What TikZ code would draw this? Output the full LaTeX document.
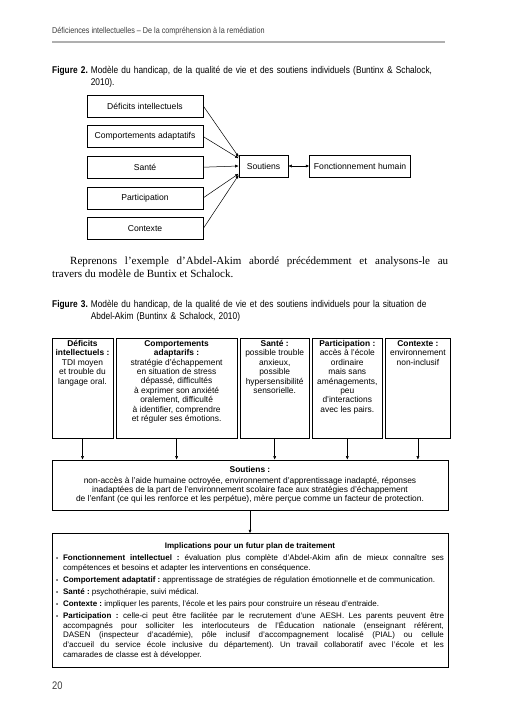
\documentclass[tikz,border=0pt]{standalone}
\usepackage{fontspec}
\setmainfont{Liberation Serif}
\setsansfont{Liberation Sans}
\newfontfamily\narrowsf[FakeStretch=0.85]{Liberation Sans}
\usetikzlibrary{arrows.meta, positioning, calc}
\definecolor{cHeader}{RGB}{60,60,60}
\definecolor{cRule}{RGB}{175,175,175}
\tikzset{
	modelbox/.style={rectangle, draw=black, line width=0.6pt, minimum height=22pt, inner sep=1pt, text centered, font=\sffamily\fontsize{8.6}{10}\selectfont},
	factor/.style={modelbox, minimum width=116pt},
	sitbox/.style={rectangle, draw=black, line width=0.6pt, minimum height=100pt, inner sep=0pt},
	sittext/.style={anchor=north, align=center, inner sep=2.5pt, font=\sffamily\fontsize{8.4}{9.4}\selectfont},
	widebox/.style={rectangle, draw=black, line width=0.6pt, minimum width=396pt, inner sep=0pt},
	flowarrow/.style={-{Latex[length=3.5pt, width=3pt]}, line width=0.5pt},
	figcaption/.style={anchor=north west, inner sep=0pt, text width=420pt, align=left, font=\narrowsf\fontsize{9.8}{11.8}\selectfont},
}
\newcommand{\figcap}[2]{\sbox0{\textbf{#1}\hspace{3pt}}\hangindent=\wd0 \hangafter=1 \usebox0#2\par}
\newcommand{\implitem}[2]{\par\hangindent=7pt\hangafter=1\noindent\makebox[7pt][l]{\scalebox{0.75}{\textbullet}}\textbf{#1} #2}

\begin{document}
\frenchspacing
\begin{tikzpicture}[x=1pt, y=-1pt, node distance=8pt]
	\fill[white] (0,0) rectangle (507,718);
	\useasboundingbox (0,0) rectangle (507,718);
	% running head
	\node[anchor=west, inner sep=0pt, text=cHeader, font=\narrowsf\fontsize{8.5}{10}\selectfont] (head) at (52,31) {Déficiences intellectuelles – De la compréhension à la remédiation};
	\draw[cRule, line width=1.2pt] (52,42) -- (445,42);
	% figure 2
	\node[figcaption] (cap2) at (52,66) {\figcap{Figure 2.}{Modèle du handicap, de la qualité de vie et des soutiens individuels (Buntinx \& Schalock,\newline 2010).}};
	\node[factor] (def) at (145,106) {Déficits intellectuels};
	\node[factor, below=of def] (comp) {Comportements adaptatifs};
	\node[factor, below=of comp] (sante) {Santé};
	\node[factor, below=of sante] (part) {Participation};
	\node[factor, below=of part] (ctx) {Contexte};
	\node[modelbox, minimum width=49pt] (sout) at (263.5,166) {Soutiens};
	\node[modelbox, minimum width=101pt, right=21pt of sout] (fonc) {Fonctionnement humain};
	\draw[flowarrow] (def.east) -- ($(sout.north west)!0.1!(sout.south west)$);
	\draw[flowarrow] (comp.east) -- ($(sout.north west)!0.16!(sout.south west)$);
	\draw[flowarrow] (sante.east) -- (sout.west);
	\draw[flowarrow] (part.east) -- ($(sout.north west)!0.84!(sout.south west)$);
	\draw[flowarrow] (ctx.east) -- ($(sout.north west)!0.9!(sout.south west)$);
	\draw[{Latex[length=3.5pt, width=3pt]}-{Latex[length=3.5pt, width=3pt]}, line width=0.5pt] (sout) -- (fonc);
	% paragraph
	\node[anchor=north west, inner sep=0pt, text width=396pt, align=justify, font=\rmfamily\fontsize{11}{12.8}\selectfont] (para) at (52,257) {\hspace*{18pt}Reprenons l’exemple d’Abdel-Akim abordé précédemment et analysons-le au\linebreak travers du modèle de Buntix et Schalock.};
	% figure 3
	\node[figcaption] (cap3) at (52,300) {\figcap{Figure 3.}{Modèle du handicap, de la qualité de vie et des soutiens individuels pour la situation de\newline Abdel-Akim (Buntinx \& Schalock, 2010)}};
	\node[sitbox, minimum width=61pt] (c1) at (82.5,388) {};
	\node[sitbox, minimum width=121pt, right=2.5pt of c1] (c2) {};
	\node[sitbox, minimum width=69pt, right=2.5pt of c2] (c3) {};
	\node[sitbox, minimum width=70pt, right=2.5pt of c3] (c4) {};
	\node[sitbox, minimum width=65pt, right=2.5pt of c4] (c5) {};
	\node[sittext] (t1) at (c1.north) {\textbf{Déficits}\\\textbf{intellectuels :}\\TDI moyen\\et trouble du\\langage oral.};
	\node[sittext] (t2) at (c2.north) {\textbf{Comportements}\\\textbf{adaptarifs :}\\stratégie d’échappement\\en situation de stress\\dépassé, difficultés\\à exprimer son anxiété\\oralement, difficulté\\à identifier, comprendre\\et réguler ses émotions.};
	\node[sittext] (t3) at (c3.north) {\textbf{Santé :}\\possible trouble\\anxieux,\\possible\\hypersensibilité\\sensorielle.};
	\node[sittext] (t4) at (c4.north) {\textbf{Participation :}\\accès à l’école\\ordinaire\\mais sans\\aménagements,\\peu\\d’interactions\\avec les pairs.};
	\node[sittext] (t5) at (c5.north) {\textbf{Contexte :}\\environnement\\non-inclusif};
	\node[widebox, minimum height=50pt, align=center, font=\sffamily\fontsize{8.4}{9.2}\selectfont] (sup) at (250,485) {\textbf{Soutiens :}\\[2pt]non-accès à l’aide humaine octroyée, environnement d’apprentissage inadapté, réponses\\inadaptées de la part de l’environnement scolaire face aux stratégies d’échappement\\de l’enfant (ce qui les renforce et les perpétue), mère perçue comme un facteur de protection.};
	\node[widebox, line width=0.9pt, below=23pt of sup, inner xsep=4pt, inner ysep=4pt, text width=388pt, align=justify, minimum height=134pt, font=\sffamily\fontsize{8}{9.6}\selectfont] (impl) {{\centering\textbf{Implications pour un futur plan de traitement}\par}\setlength{\parskip}{2.5pt}%
		\implitem{Fonctionnement intellectuel :}{évaluation plus complète d’Abdel-Akim afin de mieux connaître ses\linebreak compétences et besoins et adapter les interventions en conséquence.}
		\implitem{Comportement adaptatif :}{apprentissage de stratégies de régulation émotionnelle et de communication.}
		\implitem{Santé :}{psychothérapie, suivi médical.}
		\implitem{Contexte :}{impliquer les parents, l’école et les pairs pour construire un réseau d’entraide.}
		\implitem{Participation :}{celle-ci peut être facilitée par le recrutement d’une AESH. Les parents peuvent être\linebreak accompagnés pour solliciter les interlocuteurs de l’Éducation nationale (enseignant référent,\linebreak DASEN (inspecteur d’académie), pôle inclusif d’accompagnement localisé (PIAL) ou cellule\linebreak d’accueil du service école inclusive du département). Un travail collaboratif avec l’école et les\linebreak camarades de classe est à développer.}\par};
	\draw[flowarrow] (c1.south) -- (c1.south |- sup.north);
	\draw[flowarrow] (c2.south) -- (c2.south |- sup.north);
	\draw[flowarrow] (c3.south) -- (c3.south |- sup.north);
	\draw[flowarrow] (c4.south) -- (c4.south |- sup.north);
	\draw[flowarrow] (c5.south) -- (c5.south |- sup.north);
	\draw[flowarrow] (sup) -- (impl);
	% folio
	\node[anchor=west, inner sep=0pt, text=cHeader, font=\narrowsf\fontsize{11}{13}\selectfont] (folio) at (52,686) {20};
\end{tikzpicture}
\end{document}
